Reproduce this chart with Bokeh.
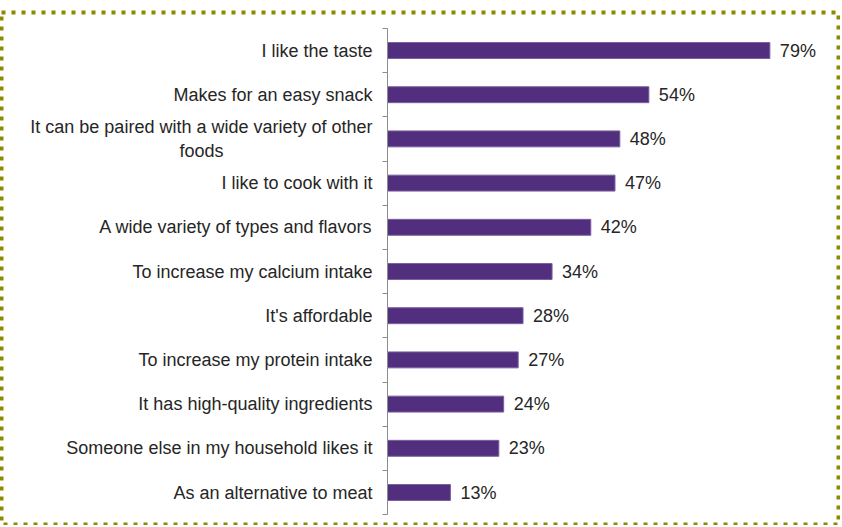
from bokeh.plotting import figure
from bokeh.models import Range1d, LinearAxis, FixedTicker
from bokeh.core.properties import value
from bokeh.embed import file_html
from bokeh.resources import INLINE

categories = [
    "I like the taste",
    "Makes for an easy snack",
    "It can be paired with a wide variety of other\nfoods",
    "I like to cook with it",
    "A wide variety of types and flavors",
    "To increase my calcium intake",
    "It's affordable",
    "To increase my protein intake",
    "It has high-quality ingredients",
    "Someone else in my household likes it",
    "As an alternative to meat",
]
values = [79, 54, 48, 47, 42, 34, 28, 27, 24, 23, 13]
value_labels = [f"{v}%" for v in values]

n = len(categories)
ypos = [n - i for i in range(n)]
boundaries = [k + 0.5 for k in range(n + 1)]

FONT = "Liberation Sans"
TEXT_COLOR = "#262626"
BAR_COLOR = "#522E7E"

p = figure(
    width=840, height=525,
    output_backend="svg", toolbar_location=None,
    x_range=Range1d(-79.75, 93.18), y_range=Range1d(0.276, 11.86),
    x_axis_location=None, y_axis_location=None,
    min_border_left=1, min_border_right=2, min_border_top=12, min_border_bottom=1,
)
p.xgrid.visible = False
p.ygrid.visible = False
p.outline_line_color = "#8B8B00"
p.outline_line_width = 4
p.outline_line_dash = "4 6"
p.outline_line_alpha = 1.0
p.background_fill_color = "white"
p.border_fill_color = "white"

yaxis = LinearAxis(
    ticker=FixedTicker(ticks=boundaries),
    fixed_location=0,
    bounds=(boundaries[0], boundaries[-1]),
    axis_line_color="#8C8C8C", axis_line_width=1,
    major_tick_line_color="#8C8C8C", major_tick_in=0, major_tick_out=5,
    minor_tick_line_color=None,
    major_label_overrides={b: "" for b in boundaries},
)
p.add_layout(yaxis, "left")

p.hbar(y=ypos, left=0, right=values, height=0.36,
       fill_color=BAR_COLOR, line_color="#7A5E9E", line_width=1)

p.text(x=values, y=ypos, text=value_labels, x_offset=10,
       text_align="left", text_baseline="middle",
       text_font=value(FONT), text_font_size="18px", text_color=TEXT_COLOR)

p.text(x=[0] * n, y=ypos, text=categories, x_offset=-15,
       anchor="center_right", text_align="center", text_baseline="middle",
       text_line_height=1.2,
       text_font=value(FONT), text_font_size="18px", text_color=TEXT_COLOR)

open("out.html", "w").write(file_html(p, INLINE))
